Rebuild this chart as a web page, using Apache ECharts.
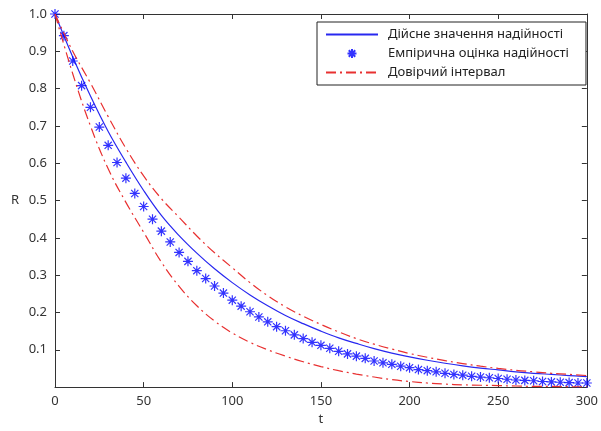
<!DOCTYPE html>
<html>
<head>
<meta charset="utf-8">
<script src="https://cdn.jsdelivr.net/npm/echarts@6/dist/echarts.min.js"></script>
<style>html,body{margin:0;padding:0;background:#fff}#c{width:601px;height:431px}</style>
</head>
<body>
<div id="c"></div>
<script>
// Data
var tStars = [0,5,10,15,20,25,30,35,40,45,50,55,60,65,70,75,80,85,90,95,100,105,110,115,120,125,130,135,140,145,150,155,160,165,170,175,180,185,190,195,200,205,210,215,220,225,230,235,240,245,250,255,260,265,270,275,280,285,290,295,300];
var empirical = [1.0,0.942,0.874,0.808,0.750,0.697,0.648,0.602,0.560,0.519,0.484,0.450,0.418,0.389,0.361,0.337,0.312,0.291,0.271,0.252,0.233,0.217,0.202,0.188,0.175,0.162,0.151,0.140,0.130,0.120,0.112,0.104,0.096,0.089,0.083,0.077,0.070,0.065,0.061,0.056,0.052,0.047,0.044,0.041,0.037,0.034,0.032,0.029,0.027,0.025,0.023,0.021,0.019,0.018,0.017,0.015,0.014,0.013,0.012,0.011,0.011];

var tCurve = [0,10,20,30,40,50,60,70,80,90,100,110,120,130,140,150,160,170,180,190,200,210,220,230,240,250,260,270,280,290,300];
var trueR = [1.0,0.885,0.78,0.685,0.603,0.527,0.46,0.406,0.359,0.317,0.28,0.247,0.218,0.192,0.17,0.15,0.132,0.117,0.103,0.091,0.081,0.072,0.064,0.057,0.051,0.046,0.041,0.037,0.034,0.031,0.028];
var upperR = [1.0,0.90,0.815,0.725,0.64,0.566,0.505,0.455,0.405,0.36,0.32,0.28,0.245,0.215,0.19,0.168,0.148,0.13,0.115,0.102,0.09,0.08,0.071,0.063,0.056,0.05,0.045,0.041,0.037,0.034,0.031];
var lowerR = [1.0,0.84,0.70,0.585,0.495,0.415,0.335,0.27,0.218,0.177,0.145,0.12,0.10,0.083,0.068,0.055,0.044,0.035,0.027,0.02,0.015,0.011,0.008,0.006,0.005,0.004,0.003,0.002,0.002,0.001,0.001];

var xTicks = [0,50,100,150,200,250,300];
var seriesNames = ['Дійсне значення надійності','Емпірична оцінка надійності','Довірчий інтервал'];

function zip(a,b){var r=[];for(var i=0;i<a.length;i++){r.push([a[i],b[i]]);}return r;}

var FONT = 'Noto Sans';
var axisCol = '#333';
var star = 'path://M0,-5L0,5M-5,0L5,0M-3.6,-3.6L3.6,3.6M-3.6,3.6L3.6,-3.6';
var hidden = {color:'rgba(0,0,0,0)',borderWidth:0,opacity:0};

var chart = echarts.init(document.getElementById('c'), null, {renderer:'canvas'});
chart.setOption({
  backgroundColor:'#fff',
  animation:false,
  grid:{left:55,right:8,top:14,bottom:37},
  legend:{
    orient:'vertical', left:317, top:22,
    data:[
      {name:seriesNames[0], itemStyle:hidden},
      {name:seriesNames[1]},
      {name:seriesNames[2], itemStyle:hidden}
    ],
    backgroundColor:'#fff',
    borderColor:'#222', borderWidth:1,
    padding:[6,17,6,8],
    itemWidth:52, itemHeight:9, itemGap:6,
    textStyle:{fontFamily:FONT,fontSize:13,color:'#222',padding:[0,0,0,5]}
  },
  xAxis:[{
    type:'value', min:0, max:300, interval:50,
    name:'t', nameLocation:'middle', nameGap:25,
    nameTextStyle:{fontFamily:FONT,fontSize:13,color:axisCol},
    axisLine:{lineStyle:{color:axisCol,width:1}},
    axisTick:{inside:true,length:5,lineStyle:{color:axisCol}},
    axisLabel:{fontFamily:FONT,fontSize:13,color:axisCol,margin:8},
    splitLine:{show:false}
  },{
    type:'value', position:'top', min:0, max:300, interval:50,
    axisLine:{show:true,onZero:false,lineStyle:{color:axisCol,width:1}},
    axisTick:{inside:true,length:5,lineStyle:{color:axisCol}},
    axisLabel:{show:false}, splitLine:{show:false}
  }],
  yAxis:[{
    type:'value', min:0, max:1, interval:0.1,
    name:'R', nameLocation:'middle', nameGap:36, nameRotate:0,
    nameTextStyle:{fontFamily:FONT,fontSize:13,color:axisCol},
    axisLine:{show:true,lineStyle:{color:axisCol,width:1}},
    axisTick:{show:true,inside:true,length:5,lineStyle:{color:axisCol}},
    axisLabel:{fontFamily:FONT,fontSize:13,color:axisCol,margin:8,
      formatter:function(v){return v===0?'':v.toFixed(1);}},
    splitLine:{show:false}
  },{
    type:'value', position:'right', min:0, max:1, interval:0.1,
    axisLine:{show:true,onZero:false,lineStyle:{color:axisCol,width:1}},
    axisTick:{show:true,inside:true,length:5,lineStyle:{color:axisCol}},
    axisLabel:{show:false}, splitLine:{show:false}
  }],
  series:[{
    name:seriesNames[0], type:'line', data:zip(tCurve,trueR),
    smooth:0.4, symbol:'none',
    lineStyle:{color:'#2828f0',width:1.2},
    itemStyle:{color:'#2828f0'}, z:2
  },{
    name:seriesNames[1], type:'scatter', data:zip(tStars,empirical),
    symbol:star, symbolSize:10,
    itemStyle:{color:'rgba(0,0,0,0)',borderColor:'#0000ff',borderWidth:1.2}, z:3
  },{
    name:seriesNames[2], type:'line', data:zip(tCurve,upperR),
    smooth:0.4, symbol:'none',
    lineStyle:{color:'#e83030',width:1.2,type:[10,4,2,4]},
    itemStyle:{color:'#e83030'}, z:4
  },{
    name:seriesNames[2], type:'line', data:zip(tCurve,lowerR),
    smooth:0.4, symbol:'none',
    lineStyle:{color:'#e83030',width:1.2,type:[10,4,2,4]},
    itemStyle:{color:'#e83030'}, z:4
  }]
});
</script>
</body>
</html>
